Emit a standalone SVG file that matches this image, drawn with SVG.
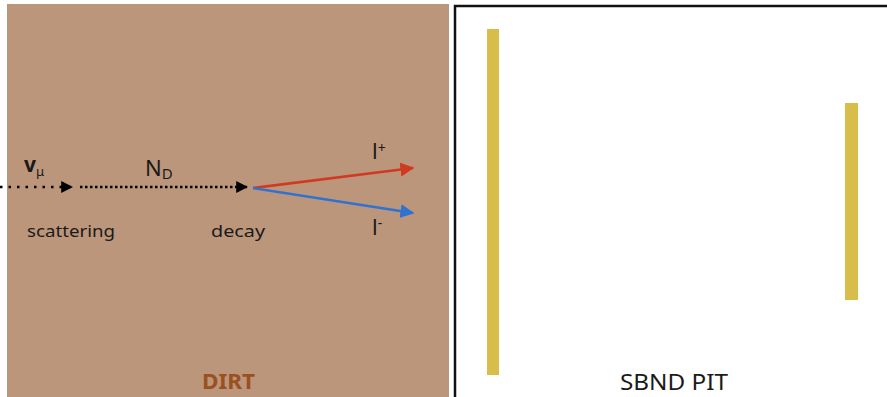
<svg xmlns="http://www.w3.org/2000/svg" width="887" height="397" viewBox="0 0 887 397">
<defs>
<style>
.t{font-family:"Noto Sans","Open Sans",sans-serif;fill:#1a1a1a}
.bar{fill:#d8bd4a}
</style>
<marker id="ab" viewBox="0 0 10 10" refX="9" refY="5" markerWidth="12" markerHeight="12" markerUnits="userSpaceOnUse" orient="auto"><path d="M0,0 L10,5 L0,10 z" fill="#000"/></marker>
<marker id="ar" viewBox="0 0 10 10" refX="9" refY="5" markerWidth="14" markerHeight="14" markerUnits="userSpaceOnUse" orient="auto"><path d="M0,0 L10,5 L0,10 z" fill="#d03a22"/></marker>
<marker id="abl" viewBox="0 0 10 10" refX="9" refY="5" markerWidth="14" markerHeight="14" markerUnits="userSpaceOnUse" orient="auto"><path d="M0,0 L10,5 L0,10 z" fill="#2f72d2"/></marker>
</defs>
<rect width="887" height="397" fill="#fff"/>
<g id="dirt">
<rect x="7" y="4" width="442" height="393" fill="#bc967b"/>
<text x="202" y="389" font-family="'Noto Sans','Open Sans',sans-serif" font-weight="bold" font-size="21" fill="#9a501f" textLength="53" lengthAdjust="spacingAndGlyphs">DIRT</text>
</g>
<g id="pit">
<path d="M455 397 V6 H887" fill="none" stroke="#111" stroke-width="2.5"/>
<rect class="bar" x="487" y="29" width="12" height="346"/>
<rect class="bar" x="845" y="103" width="13" height="197"/>
<text class="t" x="620" y="390" font-size="21" textLength="108" lengthAdjust="spacingAndGlyphs">SBND PIT</text>
</g>
<g id="labels">
<text class="t" x="24" y="172" font-size="21" font-weight="bold">v<tspan font-size="13" font-weight="normal" dy="4">μ</tspan></text>
<text class="t" x="145" y="176" font-size="22">N<tspan font-size="15" dy="3">D</tspan></text>
<text class="t" x="27" y="237" font-size="17" textLength="88" lengthAdjust="spacingAndGlyphs">scattering</text>
<text class="t" x="211" y="237" font-size="17" textLength="54" lengthAdjust="spacingAndGlyphs">decay</text>
<text class="t" x="372" y="159" font-size="22">l<tspan font-size="14" dy="-6">+</tspan></text>
<text class="t" x="372" y="235" font-size="22">l<tspan font-size="14" dy="-7">-</tspan></text>
</g>
<g id="connectors">
<line x1="0" y1="187" x2="72" y2="187" stroke="#000" stroke-width="2.5" stroke-dasharray="2.5 6" marker-end="url(#ab)"/>
<line x1="80" y1="187" x2="247" y2="187" stroke="#000" stroke-width="2.5" stroke-dasharray="2.5 2.5" marker-end="url(#ab)"/>
<line x1="253" y1="188" x2="413" y2="168" stroke="#d03a22" stroke-width="2.5" marker-end="url(#ar)"/>
<line x1="253" y1="188" x2="413" y2="213" stroke="#2f72d2" stroke-width="2.5" marker-end="url(#abl)"/>
</g>
</svg>
